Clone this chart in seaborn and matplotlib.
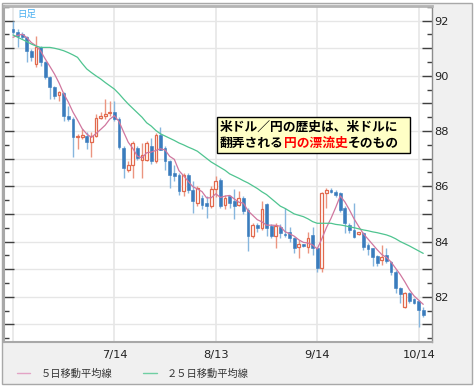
import numpy as np
import pandas as pd
import matplotlib
matplotlib.use("Agg")
import matplotlib.pyplot as plt
import seaborn as sns
from matplotlib.patches import Rectangle
from matplotlib.lines import Line2D
from matplotlib.ticker import MultipleLocator, FuncFormatter

# ---------------- data ----------------
dates = pd.bdate_range("2010-06-14", periods=90)

opens = [91.70, 91.60, 91.52, 91.40, 90.91, 90.43, 91.03, 90.49, 89.95, 89.58,
         89.31, 89.38, 88.56, 88.44, 87.77, 87.80, 87.83, 87.59, 87.83, 88.46,
         88.55, 88.65, 88.68, 88.44, 87.39, 86.60, 86.77, 87.40, 86.95, 86.95,
         87.45, 86.90, 87.85, 87.38, 86.90, 86.48, 86.42, 85.82, 86.42, 85.88,
         85.40, 85.58, 85.40, 85.28, 85.90, 86.24, 85.34, 85.64, 85.46, 85.34,
         85.58, 85.15, 84.19, 84.60, 84.50, 85.36, 84.56, 84.19, 84.52, 84.27,
         84.36, 84.12, 83.80, 83.90, 83.81, 84.24, 83.75, 83.03, 85.75, 85.87,
         85.81, 85.75, 85.20, 84.60, 84.42, 84.27, 84.30, 83.87, 83.75, 83.48,
         83.33, 83.51, 83.24, 82.90, 82.33, 81.64, 82.12, 81.90, 81.85, 81.52]
highs = [92.00, 91.70, 91.58, 91.46, 90.97, 91.46, 91.09, 90.55, 90.00, 89.64,
         89.46, 89.40, 88.92, 88.50, 87.90, 88.07, 87.95, 87.95, 88.62, 88.68,
         89.16, 89.10, 89.10, 88.50, 87.45, 86.90, 87.65, 87.45, 87.57, 87.65,
         87.75, 87.93, 88.13, 87.45, 86.96, 86.78, 86.48, 86.48, 86.48, 86.18,
         86.00, 85.70, 85.64, 86.00, 86.36, 86.30, 85.70, 85.70, 85.90, 85.82,
         85.64, 85.20, 84.66, 84.66, 85.46, 85.40, 84.62, 84.68, 84.62, 85.22,
         84.54, 84.18, 84.05, 83.92, 84.36, 84.54, 83.81, 85.81, 85.93, 85.93,
         85.87, 85.81, 85.30, 84.66, 85.40, 84.36, 84.33, 83.93, 83.78, 83.51,
         83.88, 83.75, 83.30, 82.96, 82.36, 82.18, 82.18, 81.97, 81.88, 81.64]
lows = [91.50, 91.05, 91.34, 90.49, 90.55, 90.31, 90.37, 89.89, 89.16, 89.16,
        89.10, 88.38, 88.38, 87.05, 87.35, 87.70, 87.35, 87.05, 87.77, 88.44,
        88.44, 88.56, 88.38, 87.35, 86.30, 86.50, 86.30, 86.95, 86.30, 86.90,
        86.80, 86.85, 87.30, 86.60, 85.94, 86.20, 85.70, 85.64, 85.76, 85.04,
        85.30, 85.16, 84.85, 85.20, 85.60, 85.20, 85.16, 85.20, 84.80, 85.28,
        84.98, 83.65, 84.13, 84.36, 84.42, 84.20, 84.13, 83.77, 84.13, 84.15,
        84.00, 83.57, 83.40, 83.80, 83.57, 83.50, 82.90, 82.90, 85.20, 85.75,
        85.63, 85.08, 84.30, 84.30, 84.12, 84.24, 83.69, 83.50, 83.12, 83.12,
        83.15, 83.21, 82.80, 82.12, 81.76, 81.60, 81.76, 81.73, 80.90, 81.28]
closes = [91.58, 91.45, 91.40, 90.91, 90.67, 91.03, 90.49, 89.95, 89.58, 89.28,
          89.40, 88.56, 88.44, 87.77, 87.83, 87.84, 87.59, 87.83, 88.46, 88.56,
          88.62, 88.70, 88.44, 87.41, 86.66, 86.77, 87.57, 87.03, 87.13, 87.57,
          86.90, 87.87, 87.33, 86.90, 86.42, 86.36, 85.82, 86.42, 85.88, 85.46,
          85.94, 85.34, 85.28, 85.90, 86.18, 85.28, 85.58, 85.40, 85.28, 85.58,
          85.10, 84.19, 84.60, 84.48, 85.19, 84.50, 84.19, 84.56, 84.32, 84.22,
          84.12, 83.75, 83.90, 83.85, 84.12, 83.75, 83.03, 85.75, 85.87, 85.81,
          85.69, 85.14, 84.66, 84.42, 84.18, 84.33, 83.81, 83.72, 83.45, 83.21,
          83.45, 83.30, 82.90, 82.30, 82.09, 82.12, 81.85, 81.79, 81.52, 81.34]
# closes of the four trading days before the first candle (for the 5-day average)
pre_closes = [91.10, 91.20, 91.50, 91.60]
# 25-day moving average
ma25 = [91.48, 91.40, 91.32, 91.24, 91.15, 91.08, 91.03, 91.03, 91.03, 91.00,
        90.96, 90.91, 90.84, 90.76, 90.67, 90.45, 90.25, 90.12, 90.00, 89.89,
        89.76, 89.64, 89.52, 89.35, 89.16, 88.98, 88.82, 88.66, 88.50, 88.30,
        88.18, 88.02, 87.90, 87.82, 87.74, 87.66, 87.57, 87.50, 87.42, 87.35,
        87.27, 87.14, 87.01, 86.88, 86.78, 86.68, 86.58, 86.45, 86.37, 86.29,
        86.20, 86.12, 86.02, 85.92, 85.80, 85.70, 85.56, 85.42, 85.28, 85.20,
        85.10, 85.00, 84.95, 84.90, 84.82, 84.72, 84.66, 84.66, 84.66, 84.66,
        84.62, 84.60, 84.57, 84.53, 84.50, 84.46, 84.42, 84.39, 84.35, 84.32,
        84.28, 84.24, 84.18, 84.10, 84.00, 83.92, 83.84, 83.75, 83.66, 83.57]

grid_dates = ["2010-06-14", "2010-07-14", "2010-08-13", "2010-09-14", "2010-10-14"]
tick_labels = ["", "7/14", "8/13", "9/14", "10/14"]
legend_labels = ["５日移動平均線", "２５日移動平均線"]
period_label = "日足"
note_line1 = "米ドル／円の歴史は、米ドルに"
note_line2 = ["翻弄される", "円の漂流史", "そのもの"]
note_colors2 = ["black", "#ff0000", "black"]

# ---------------- derived ----------------
x = np.arange(len(dates))
o = np.array(opens); h = np.array(highs); l = np.array(lows); c = np.array(closes)
ma5 = pd.Series(pre_closes + closes).rolling(5).mean().to_numpy()[len(pre_closes):]
df = pd.DataFrame({"x": x, "ma5": ma5, "ma25": ma25})
grid_pos = [int(np.where(dates == pd.Timestamp(d))[0][0]) for d in grid_dates]

# ---------------- style ----------------
sns.set_style("white")
plt.rcParams["font.family"] = ["Noto Sans CJK JP", "DejaVu Sans"]

W, H = 476, 387
fig = plt.figure(figsize=(W / 100, H / 100), dpi=100)
fig.patch.set_facecolor("white")

# outer light-gray frame
fig.patches.append(Rectangle((2 / W, 1 - 384 / H), 470 / W, 381 / H,
                             transform=fig.transFigure, facecolor="#f0f0f0",
                             edgecolor="#a8a8a8", lw=1, zorder=-5))

ax_l, ax_r, ax_t, ax_b = 4, 432, 6, 342
ax = fig.add_axes([ax_l / W, 1 - ax_b / H, (ax_r - ax_l) / W, (ax_b - ax_t) / H])
ax.set_zorder(1)
ax.set_facecolor("white")

blue = "#3a7cbd"
blue_wick = "#86b6de"
red = "#e2694d"
red_wick = "#eb9580"

up = c >= o
ax.vlines(x[up], l[up], h[up], color=red_wick, lw=1.0, zorder=2)
ax.vlines(x[~up], l[~up], h[~up], color=blue_wick, lw=1.0, zorder=2)
bottom = np.minimum(o, c)
height = np.maximum(np.abs(c - o), 0.03)
ax.bar(x[up], height[up], bottom=bottom[up], width=0.6, facecolor="white",
       edgecolor=red, lw=0.9, zorder=2.5)
ax.bar(x[~up], height[~up], bottom=bottom[~up], width=0.6, facecolor=blue,
       edgecolor=blue, lw=0.4, zorder=2.5)

sns.lineplot(data=df, x="x", y="ma5", ax=ax, color="#d0779f", lw=0.9, zorder=3)
sns.lineplot(data=df, x="x", y="ma25", ax=ax, color="#4fc490", lw=0.9, zorder=3)

ax.set_xlim(-1.95, 90.9)
ax.set_ylim(80.36, 92.53)
ax.set_xlabel("")
ax.set_ylabel("")

# grid
for gp in grid_pos:
    ax.axvline(gp, color="#e6e6e6", lw=1.2, zorder=0.5)
ax.yaxis.set_major_locator(MultipleLocator(1))
ax.yaxis.set_minor_locator(MultipleLocator(0.5))
ax.grid(axis="y", which="major", color="#e6e6e6", lw=1.0, zorder=0.5)
ax.set_axisbelow(True)

ax.yaxis.set_major_formatter(FuncFormatter(lambda v, p: f"{int(round(v))}" if int(round(v)) % 2 == 0 else ""))
ax.tick_params(axis="y", which="both", direction="in", left=True, right=True,
               labelleft=False, labelright=True, colors="#404040", labelcolor="#222222",
               labelsize=8.2, pad=1.5)
ax.tick_params(axis="y", which="major", length=7, width=1)
ax.tick_params(axis="y", which="minor", length=3.5, width=1)
for lab in ax.get_yticklabels():
    lab.set_family("DejaVu Sans")

ax.set_xticks(grid_pos)
ax.set_xticklabels(tick_labels, family="DejaVu Sans", fontsize=8.2, color="#222222")
ax.tick_params(axis="x", length=0, pad=6)

for side, col, lw in [("left", "#a8a8a8", 1.5), ("top", "#b4b4b4", 2.0),
                      ("right", "#8c8c8c", 1.0), ("bottom", "#a8a8a8", 1.5)]:
    ax.spines[side].set_color(col)
    ax.spines[side].set_linewidth(lw)
    ax.spines[side].set_visible(True)

# period label
ax.text((17 - ax_l) / (ax_r - ax_l), 1 - (14 - ax_t) / (ax_b - ax_t), period_label,
        transform=ax.transAxes, ha="left", va="center", fontsize=6.8, color="#49aff0")

# annotation box
def px2x(px):
    return (px - 13) / 4.61

def py2y(py):
    return 92 - (py - 20.7) / 27.6

ax.add_patch(Rectangle((px2x(217), py2y(153)), px2x(410) - px2x(217), py2y(117) - py2y(153),
                       facecolor="#ffffc6", edgecolor="black", lw=1.0, zorder=5))
ax.text(px2x(220), py2y(127), note_line1, ha="left", va="center", fontsize=9.2,
        fontweight="bold", color="black", zorder=6)
prev = ax.text(px2x(220), py2y(143.5), note_line2[0], ha="left", va="center",
               fontsize=9.2, fontweight="bold", color=note_colors2[0], zorder=6)
for seg, col in zip(note_line2[1:], note_colors2[1:]):
    prev = ax.annotate(seg, xy=(1, 0), xycoords=prev, ha="left", va="bottom",
                       fontsize=9.2, fontweight="bold", color=col, zorder=6)

# legend
handles = [Line2D([], [], color="#e3a3c5", lw=1.0), Line2D([], [], color="#6fcfa3", lw=1.0)]
fig.legend(handles, legend_labels, loc="center left", bbox_to_anchor=(17 / W, 1 - 374 / H),
           ncol=2, frameon=False, fontsize=7.4, handlelength=1.3, handletextpad=1.0,
           columnspacing=3.0, borderpad=0, borderaxespad=0, labelcolor="#333333")

fig.savefig("out.png", dpi=100, facecolor=fig.get_facecolor())
